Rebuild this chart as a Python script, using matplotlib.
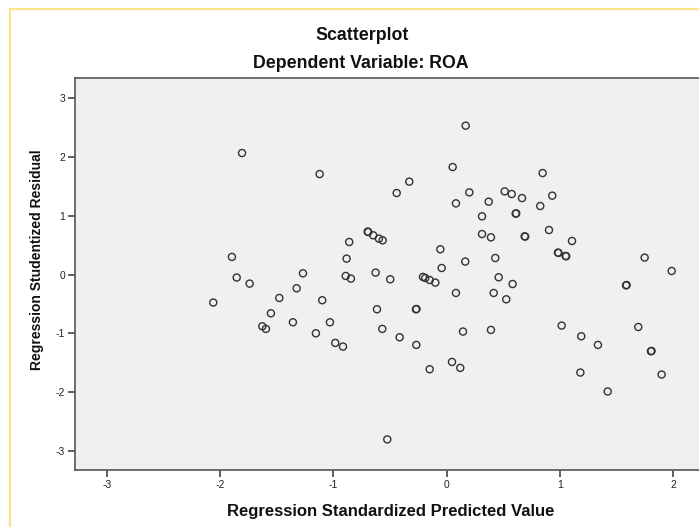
import matplotlib
matplotlib.use("Agg")
import matplotlib.pyplot as plt
from matplotlib.patches import Rectangle

plt.rcParams['font.family'] = ['Liberation Sans', 'DejaVu Sans']

predicted = [-2.06, -1.895, -1.853, -1.806, -1.739, -1.627, -1.595, -1.551, -1.477, -1.357,
             -1.324, -1.268, -1.154, -1.121, -1.098, -1.030, -0.983, -0.915, -0.891, -0.883,
             -0.860, -0.845, -0.697, -0.692, -0.648, -0.627, -0.615, -0.598, -0.568, -0.565,
             -0.524, -0.498, -0.441, -0.415, -0.330, -0.271, -0.266, -0.268, -0.209, -0.189,
             -0.150, -0.150, -0.100, -0.056, -0.044, 0.047, 0.053, 0.082, 0.082, 0.120,
             0.144, 0.164, 0.168, 0.200, 0.312, 0.312, 0.371, 0.391, 0.391, 0.415,
             0.429, 0.459, 0.512, 0.526, 0.574, 0.582, 0.609, 0.614, 0.665, 0.688,
             0.693, 0.826, 0.847, 0.903, 0.932, 0.982, 0.987, 1.015, 1.050, 1.055,
             1.106, 1.180, 1.188, 1.335, 1.421, 1.583, 1.588, 1.691, 1.747, 1.803,
             1.808, 1.897, 1.986]
residual = [-0.475, 0.300, -0.050, 2.065, -0.153, -0.878, -0.923, -0.657, -0.397, -0.810,
            -0.233, 0.022, -0.997, 1.708, -0.436, -0.810, -1.161, -1.223, -0.023, 0.271,
            0.554, -0.068, 0.730, 0.724, 0.667, 0.034, -0.589, 0.611, -0.923, 0.582,
            -2.800, -0.080, 1.386, -1.065, 1.579, -0.589, -0.585, -1.195, -0.040, -0.058,
            -0.092, -1.608, -0.136, 0.430, 0.112, -1.484, 1.827, 1.210, -0.312, -1.585,
            -0.968, 0.221, 2.530, 1.397, 0.990, 0.689, 1.239, 0.633, -0.940, -0.312,
            0.282, -0.046, 1.414, -0.420, 1.369, -0.160, 1.036, 1.040, 1.300, 0.650,
            0.646, 1.165, 1.725, 0.757, 1.341, 0.373, 0.369, -0.866, 0.316, 0.312,
            0.571, -1.664, -1.048, -1.195, -1.986, -0.182, -0.178, -0.890, 0.289, -1.302,
            -1.298, -1.698, 0.061]

x_ticks = [-3, -2, -1, 0, 1, 2]
y_ticks = [-3, -2, -1, 0, 1, 2, 3]

W, H = 699, 527
fig = plt.figure(figsize=(W / 100, H / 100), dpi=100)
fig.patch.set_facecolor('white')

# yellow frame
fig.add_artist(Rectangle((10 / W, -0.05), 1.2, 1 - 9 / H + 0.05, transform=fig.transFigure,
                         fill=False, edgecolor='#FBE38C', linewidth=1.6))

ax = fig.add_axes([75 / W, 1 - 470 / H, 1 - 75 / W, (470 - 78) / H])
ax.set_facecolor('#F0F0F0')
ax.scatter(predicted, residual, s=26, facecolors='none', edgecolors='#333333', linewidths=1.0, zorder=3)

ax.set_xlim(-3.28, 2.227)
ax.set_ylim(-3.32, 3.34)
ax.set_xticks(x_ticks)
ax.set_yticks(y_ticks)
ax.set_xticklabels([str(t) for t in x_ticks])
ax.set_yticklabels([str(t) for t in y_ticks])
ax.tick_params(direction='out', length=5, width=1.2, color='#444444', labelsize=7.5,
               labelcolor='#222222', pad=2)
for side in ['top', 'left', 'bottom']:
    ax.spines[side].set_color('#555555')
    ax.spines[side].set_linewidth(1.2)
ax.spines['right'].set_visible(False)

fig.text(362 / W, 1 - 35 / H, 'Scatterplot', ha='center', va='center', fontsize=12.8,
         fontweight='bold', color='#111111')
fig.text(361 / W, 1 - 63.5 / H, 'Dependent Variable: ROA', ha='center', va='center', fontsize=12.8,
         fontweight='bold', color='#111111')
fig.text(391 / W, 1 - 511.5 / H, 'Regression Standardized Predicted Value', ha='center', va='center',
         fontsize=12, fontweight='bold', color='#111111')
fig.text(37 / W, 1 - 259.5 / H, 'Regression Studentized Residual', ha='center', va='center',
         rotation=90, fontsize=10, fontweight='bold', color='#111111')

fig.savefig('out.png', dpi=100)
